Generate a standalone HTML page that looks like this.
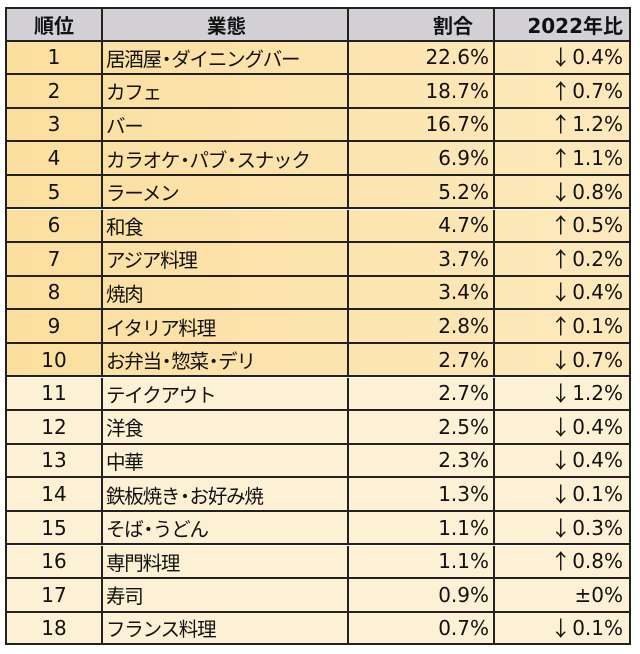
<!DOCTYPE html>
<html><head><meta charset="utf-8"><style>
body{margin:0;background:#fff;width:640px;height:654px;overflow:hidden;font-family:"DejaVu Sans","Noto Sans CJK JP",sans-serif;}
#t{position:absolute;left:5px;top:7px;width:626px;border:2px solid #222;box-sizing:border-box;}
.r{position:absolute;left:0;width:622px;border-bottom:2px solid #222;box-sizing:border-box;display:flex;}
.c{box-sizing:border-box;height:100%;border-right:2px solid #222;font-size:20px;color:#111;display:flex;align-items:center;white-space:nowrap;}
.c:last-child{border-right:none}
.c1{width:96px;justify-content:center}
.c2{width:246px;padding-left:3px;font-family:"Noto Sans CJK JP",sans-serif;letter-spacing:-1.2px;font-size:19.5px}
.dot{margin:0 -4px}
.c3{width:146px;justify-content:flex-end;padding-right:4px}
.c4{width:134px;justify-content:flex-end;padding-right:6px}
.ar{font-family:"Noto Sans CJK JP",sans-serif;font-size:21px;margin-right:1px}
.h .c{font-weight:bold;justify-content:center;font-family:"DejaVu Sans","Noto Sans CJK JP",sans-serif;letter-spacing:0}
.h .c3{justify-content:flex-end;padding-right:20px}
.h .c4{justify-content:flex-end;padding-right:6px}
</style></head><body>
<div id="t"></div>
<script>
const ranks=[1,2,3,4,5,6,7,8,9,10,11,12,13,14,15,16,17,18];
const cats=["居酒屋・ダイニングバー","カフェ","バー","カラオケ・パブ・スナック","ラーメン","和食","アジア料理","焼肉","イタリア料理","お弁当・惣菜・デリ","テイクアウト","洋食","中華","鉄板焼き・お好み焼","そば・うどん","専門料理","寿司","フランス料理"];
const shares=[22.6,18.7,16.7,6.9,5.2,4.7,3.7,3.4,2.8,2.7,2.7,2.5,2.3,1.3,1.1,1.1,0.9,0.7];
const changes=[-0.4,0.7,1.2,1.1,-0.8,0.5,0.2,-0.4,0.1,-0.7,-1.2,-0.4,-0.4,-0.1,-0.3,0.8,0,-0.1];
const t=document.getElementById('t');
const top0=31.5,rh=33.6;
t.style.height=(top0+rh*ranks.length+2)+'px';
function row(y,h,bg,cls,vals,name,isData){
  const r=document.createElement('div');
  
  
  r.className='r '+cls;r.style.top=y+'px';r.style.height=h+'px';r.style.background=bg;
  vals.forEach((v,i)=>{const c=document.createElement('div');c.className='c c'+(i+1);
    if(typeof v==='object'){const a=document.createElement('span');a.className='ar';a.textContent=v.a;c.appendChild(a);c.appendChild(document.createTextNode(v.t));}
    else if(isData&&i===1){String(v).split('・').forEach((p,j)=>{if(j>0){const d=document.createElement('span');d.className='dot';d.textContent='・';c.appendChild(d);}c.appendChild(document.createTextNode(p));});}
    else c.textContent=v;
    
    
    r.appendChild(c);});
  t.appendChild(r);
}
row(0,top0+1,'#d3d1d6','h',['順位','業態','割合','2022年比'],'header-row',false);
ranks.forEach((k,i)=>{
  const ch=changes[i];
  const s=ch===0?{a:'',t:'±0%'}:{a:(ch>0?'↑':'↓'),t:Math.abs(ch).toFixed(1)+'%'};
  const bg=i<10?'linear-gradient(90deg,#fbdf9f,#fde9bd)':'#fdf1d5';
  row(top0+1+rh*i,rh+(i==ranks.length-1?-1:0),bg,'',[k,cats[i],shares[i].toFixed(1)+'%',s],'row-'+k,true);
});
</script>
</body></html>
